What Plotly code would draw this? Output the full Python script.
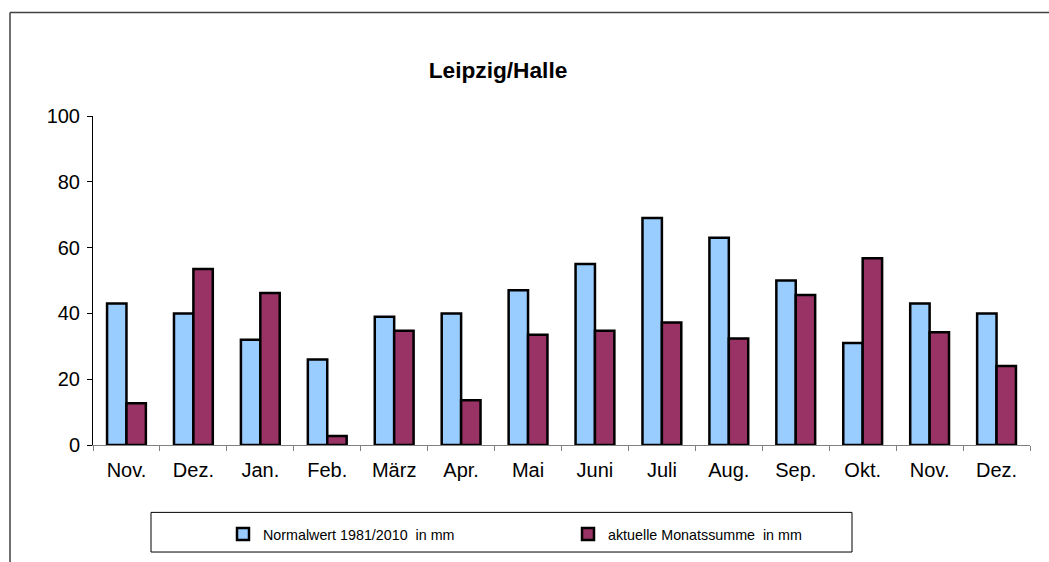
import plotly.graph_objects as go

months = ["Nov.", "Dez.", "Jan.", "Feb.", "März", "Apr.", "Mai", "Juni",
          "Juli", "Aug.", "Sep.", "Okt.", "Nov.", "Dez."]
normal = [43, 40, 32, 26, 39, 40, 47, 55, 69, 63, 50, 31, 43, 40]
actual = [12.7, 53.5, 46.2, 2.7, 34.7, 13.6, 33.5, 34.7, 37.2, 32.4, 45.6, 56.8, 34.3, 24.0]
name_normal = "Normalwert 1981/2010  in mm"
name_actual = "aktuelle Monatssumme  in mm"

W, H = 1049, 562
L, R, T, B = 93, 1030, 116, 448   # plot area in pixels
pw, ph = R - L, B - T

def px(x):
    return (x - L) / pw

def py(y):
    return (B - y) / ph

xs = list(range(len(months)))

fig = go.Figure()
fig.add_trace(go.Bar(x=xs, y=normal, name=name_normal,
                     marker=dict(color="#99CCFF", line=dict(color="black", width=2.5))))
fig.add_trace(go.Bar(x=xs, y=actual, name=name_actual,
                     marker=dict(color="#993366", line=dict(color="black", width=2.5))))

fig.update_layout(
    width=W, height=H,
    margin=dict(l=L, r=W - R, t=T, b=H - B, pad=0),
    paper_bgcolor="white", plot_bgcolor="white",
    barmode="group", bargap=0.42, bargroupgap=0,
    font=dict(family="Arial, Liberation Sans, sans-serif", color="black", size=20),
    title=dict(text="<b>Leipzig/Halle</b>", x=498 / W, xanchor="center",
               y=1 - 70 / H, yanchor="middle", font=dict(size=22.7, color="black")),
    showlegend=True,
    legend=dict(orientation="h", x=px(223), xanchor="left", y=py(538), yanchor="middle",
                entrywidth=300, entrywidthmode="pixels",
                font=dict(size=14.3), bgcolor="rgba(0,0,0,0)", borderwidth=0,
                traceorder="normal"),
    xaxis=dict(range=[-0.5, len(months) - 0.5], tickvals=xs, ticktext=months,
               ticks="", showgrid=False, zeroline=False, showline=True,
               linecolor="#808080", linewidth=1, ticklabelstandoff=7,
               minor=dict(tickvals=[i - 0.5 for i in range(len(months) + 1)],
                          ticks="outside", ticklen=5, tickcolor="#808080", showgrid=False),
               tickfont=dict(size=20), fixedrange=True),
    yaxis=dict(range=[0, 100], dtick=20, ticks="outside", ticklen=5, tickcolor="black",
               showgrid=False, zeroline=False, showline=True, linecolor="black",
               linewidth=1, tickfont=dict(size=20), ticklabelstandoff=3, fixedrange=True),
    shapes=[
        dict(type="line", xref="paper", yref="paper", x0=px(10), x1=px(1060),
             y0=py(11.5), y1=py(11.5), line=dict(color="#404040", width=1.5)),
        dict(type="line", xref="paper", yref="paper", x0=px(10), x1=px(10),
             y0=py(11.5), y1=py(570), line=dict(color="#404040", width=1.5)),
        dict(type="rect", xref="paper", yref="paper", x0=px(151), x1=px(852),
             y0=py(516), y1=py(556), line=dict(color="black", width=1)),
    ],
)

fig.write_html("out.html", config={"displayModeBar": False},
               post_script="document.body.style.margin='0';document.body.style.overflow='hidden';")
